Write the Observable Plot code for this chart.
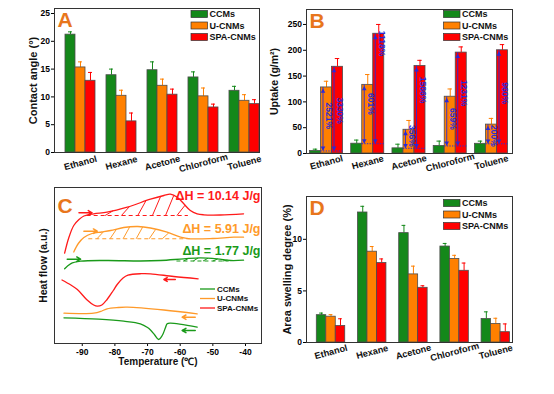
<!DOCTYPE html>
<html><head><meta charset="utf-8">
<script src="https://cdn.jsdelivr.net/npm/d3@7"></script>
<script src="https://cdn.jsdelivr.net/npm/@observablehq/plot@0.6"></script>
<style>
body{margin:0;background:#fff;}
#wrap{position:relative;width:554px;height:394px;overflow:hidden;background:#fff;}
#wrap svg{position:absolute;left:0;top:0;}
</style></head><body><div id="wrap"></div>
<script>
// ---------- shared categories ----------
const solvents = ["Ethanol", "Hexane", "Acetone", "Chloroform", "Toluene"];
const samples = ["CCMs", "U-CNMs", "SPA-CNMs"];
const sampleColors = ["#14881a", "#ff8000", "#ff0000"];

// ---------- Panel A: contact angle (°) ----------
const angleCCMs = [21.2, 13.9, 14.8, 13.5, 11.1];
const angleUCNMs = [15.3, 10.2, 12.0, 10.1, 9.3];
const angleSPA = [12.9, 5.6, 10.4, 8.1, 8.7];
const angleCCMsErr = [0.5, 1.1, 1.5, 1.0, 0.8];
const angleUCNMsErr = [1.0, 1.0, 1.2, 1.5, 1.1];
const angleSPAErr = [1.5, 1.5, 1.0, 0.6, 0.8];
const angleTicks = [0, 5, 10, 15, 20, 25];

// ---------- Panel B: uptake (g/m2) ----------
const uptakeCCMs = [4.9, 19, 10, 14.6, 18.8];
const uptakeUCNMs = [128, 133, 46, 110, 56];
const uptakeSPA = [168, 232, 169.5, 195.5, 200];
const uptakeCCMsErr = [3.5, 7, 8, 9.4, 5.2];
const uptakeUCNMsErr = [12, 20, 18, 15, 12];
const uptakeSPAErr = [16, 18, 11, 11, 11];
const uptakeTicks = [0, 50, 100, 150, 200, 250];
const pctU = ["2521%", "601%", "356%", "659%", "200%"];
const pctSPA = ["3330%", "1118%", "1586%", "1231%", "960%"];
const pctUy = [73, 96, 34, 67, 34];
const pctSPAy = [83, 213, 123, 117, 117];

// ---------- Panel D: area swelling degree (%) ----------
const swellCCMs = [2.65, 12.6, 10.6, 9.3, 2.27];
const swellUCNMs = [2.5, 8.8, 6.6, 8.1, 1.8];
const swellSPA = [1.6, 7.7, 5.3, 6.95, 1.0];
const swellCCMsErr = [0.2, 0.6, 0.75, 0.3, 0.7];
const swellUCNMsErr = [0.2, 0.5, 0.8, 0.35, 0.55];
const swellSPAErr = [0.7, 0.4, 0.2, 0.75, 0.8];
const swellTicks = [0, 5, 10];

// ---------- Panel C: DSC curves (temperature °C, heat flow a.u.) ----------
const redHeatT = [-95.4, -94.1, -92.6, -91, -89.5, -86.5, -82.4, -76.2, -69.1, -65, -63, -60.9, -58.9, -56.9, -54.8, -52.8, -47.7, -40.6];
const redHeatH = [90.3, 106, 118, 124, 127.5, 129.7, 131.3, 136.3, 144.3, 148, 149.3, 146.3, 139.7, 133, 129.7, 128.7, 128.5, 129.7];
const orangeHeatT = [-92.6, -91.2, -89.5, -87, -84, -81.3, -77.3, -73, -69.1, -64, -59.9, -56.9, -50, -43.6, -40.6];
const orangeHeatH = [91.5, 100, 106, 110, 111.5, 113, 116, 117, 115.5, 111.3, 106.3, 104.7, 105, 106.3, 106.3];
const greenHeatT = [-95.4, -93.6, -90.5, -82.4, -72.2, -66, -58.9, -53.8, -48.7, -44.6, -40.6];
const greenHeatH = [74.7, 79.7, 82.3, 83, 82.5, 83, 84.7, 85.7, 84.7, 83, 83.3];
const redCoolT = [-96.2, -93.5, -91.5, -88.5, -86.5, -85.4, -84, -82.4, -80.5, -79.3, -77.5, -76, -72, -69.1, -62, -54.5];
const redCoolH = [63.5, 58.5, 54, 43.5, 38.5, 37.3, 38.5, 44, 53, 59, 65.5, 68.3, 69.8, 69.7, 67, 64.7];
const orangeCoolT = [-95.6, -86.5, -84, -82.4, -79, -76.2, -65, -54.8];
const orangeCoolH = [30.3, 30.3, 32.5, 34.7, 36, 36.3, 33.5, 29.7];
const greenCoolT = [-95.6, -85, -77.3, -72.2, -70, -69.1, -67.8, -66.6, -65.5, -64.5, -64, -63, -54.8];
const greenCoolH = [25.7, 24.3, 22.3, 19.7, 16, 13.5, 8.5, 4, 8, 16, 19.7, 20.3, 16.3];
const tempTicks = [-90, -80, -70, -60, -50, -40];
const enthalpyLabels = ["\u0394H = 10.14 J/g", "\u0394H = 5.91 J/g", "\u0394H = 1.77 J/g"];
// integration baselines [from, to, level]
const redBase = [-88.5, -57.5, 128];
const orangeBase = [-88, -57, 104.7];
const greenBase = [-61, -45, 82.5];
const redHatchT = [-83, -78, -73, -68.5, -64.5, -61];
const orangeHatchT = [-85.5, -81.5, -77.5, -73.5, -69.5, -65.5];
const greenHatchT = [-59, -56, -53, -50, -47];
// direction arrows [x1, x2, level]
const redHeatArrow = [-91, -87, 130.7];
const orangeHeatArrow = [-89.5, -85.4, 112.3];
const greenHeatArrow = [-94.6, -90.5, 84.3];
const redCoolArrow = [-61.5, -65, 64];
const orangeCoolArrow = [-55.4, -59.4, 26.3];
const greenCoolArrow = [-55.4, -59.4, 13];

// ---------- helpers ----------
const wrap = document.getElementById("wrap");
const FONT = "'Liberation Sans', Arial, Helvetica, sans-serif";
const letterColor = "#e8761c";
const annBlue = "#2a2ad8";
const ink = "#111";
const curveColors = ["#1a9a1a", "#ff9a2a", "#ff1a1a"];
const STYLE = {background: "transparent", overflow: "visible", fontFamily: FONT, fontWeight: "bold"};

function frameMargins(l, t, r, b) {
  return {width: 554, height: 394, marginLeft: l, marginTop: t, marginRight: 554 - r, marginBottom: 394 - b};
}

function legendBoxes(x0, y0) {
  return () => {
    const g = d3.create("svg:g").attr("font-family", FONT).attr("font-size", 9).attr("font-weight", "bold").attr("text-anchor", "start");
    samples.forEach((s, i) => {
      const y = y0 + i * 11.5;
      g.append("rect").attr("x", x0).attr("y", y - 3.5).attr("width", 16.5).attr("height", 7)
        .attr("fill", sampleColors[i]).attr("stroke", "#333").attr("stroke-width", 0.7);
      g.append("text").attr("x", x0 + 18.5).attr("y", y).attr("dy", "0.35em").attr("fill", ink).text(s);
    });
    return g.node();
  };
}

function legendLines(x0, y0) {
  return () => {
    const g = d3.create("svg:g").attr("font-family", FONT).attr("font-size", 8).attr("font-weight", "bold").attr("text-anchor", "start");
    samples.forEach((s, i) => {
      const y = y0 + i * 9.5;
      g.append("line").attr("x1", x0).attr("x2", x0 + 15).attr("y1", y).attr("y2", y)
        .attr("stroke", curveColors[i]).attr("stroke-width", 1.3);
      g.append("text").attr("x", x0 + 17).attr("y", y).attr("dy", "0.35em").attr("fill", ink).text(s);
    });
    return g.node();
  };
}

function groupedRows(values, errors, bw) {
  const rows = [];
  values.forEach((arr, si) => arr.forEach((v, gi) => {
    const x1 = gi + (si - 1.5) * bw;
    rows.push({gi, si, v, e: errors[si][gi], x1, x2: x1 + bw, xc: x1 + bw / 2, color: sampleColors[si]});
  }));
  return rows;
}

function barPanel(cfg) {
  const rows = groupedRows(cfg.values, cfg.errors, cfg.bw);
  const cap = cfg.bw * 0.2;
  return Plot.plot({
    ...frameMargins(...cfg.frame),
    style: STYLE,
    x: {domain: cfg.xDomain, axis: null},
    y: {domain: cfg.yDomain, axis: null},
    color: {type: "identity"},
    marks: [
      Plot.ruleX(rows, {x: "xc", y1: "v", y2: d => d.v + d.e, stroke: "color", strokeWidth: 1}),
      Plot.ruleY(rows, {y: d => d.v + d.e, x1: d => d.xc - cap, x2: d => d.xc + cap, stroke: "color", strokeWidth: 1}),
      Plot.rectY(rows, {x1: "x1", x2: "x2", y1: 0, y2: "v", fill: "color", stroke: "#4d4d4d", strokeWidth: 0.8}),
      ...(cfg.extra || []),
      Plot.axisY({ticks: cfg.yTicks, tickSize: 3, tickPadding: 1.5, fontSize: 8.5, fontWeight: "bold", label: null, tickFormat: d => String(d)}),
      Plot.text(solvents, {x: (d, i) => i, y: cfg.yDomain[0], dy: cfg.catDy, rotate: -15, text: d => d, fontSize: 9.2, fill: ink}),
      Plot.frame({stroke: "#333", strokeWidth: 1}),
      Plot.text([cfg.letter], {frameAnchor: "top-left", dx: 3, dy: 4, lineAnchor: "top", textAnchor: "start", text: d => d, fontSize: 21, fill: letterColor}),
      Plot.text([cfg.ylabel], {frameAnchor: "left", dx: cfg.ylabelDx, rotate: -90, textAnchor: "middle", lineAnchor: "middle", text: d => d, fontSize: cfg.ylabelSize, fill: ink}),
      legendBoxes(cfg.legend[0], cfg.legend[1])
    ]
  });
}

// ---------- A ----------
wrap.appendChild(barPanel({
  frame: [54, 8, 259, 152],
  values: [angleCCMs, angleUCNMs, angleSPA],
  errors: [angleCCMsErr, angleUCNMsErr, angleSPAErr],
  bw: 0.244, xDomain: [-0.634, 4.366], yDomain: [0, 25.9], yTicks: angleTicks,
  catDy: 10.5, letter: "A", ylabel: "Contact angle (\u00b0)", ylabelDx: -21, ylabelSize: 11,
  legend: [191, 14]
}));

// ---------- B ----------
const bBw = 0.267;
const arrowsB = [];
solvents.forEach((s, gi) => {
  arrowsB.push({x: gi - 0.5 * bBw, base: uptakeCCMs[gi], top: uptakeUCNMs[gi], label: pctU[gi], ly: pctUy[gi], xc: gi});
  arrowsB.push({x: gi + 0.5 * bBw, base: uptakeCCMs[gi], top: uptakeSPA[gi], label: pctSPA[gi], ly: pctSPAy[gi], xc: gi + bBw});
});
const triUp = {draw(ctx, size) { const s = Math.sqrt(size / Math.PI); ctx.moveTo(0, -s); ctx.lineTo(s * 0.95, s * 0.8); ctx.lineTo(-s * 0.95, s * 0.8); ctx.closePath(); }};
const triDown = {draw(ctx, size) { const s = Math.sqrt(size / Math.PI); ctx.moveTo(0, s); ctx.lineTo(s * 0.95, -s * 0.8); ctx.lineTo(-s * 0.95, -s * 0.8); ctx.closePath(); }};
wrap.appendChild(barPanel({
  frame: [306, 9, 512, 153],
  values: [uptakeCCMs, uptakeUCNMs, uptakeSPA],
  errors: [uptakeCCMsErr, uptakeUCNMsErr, uptakeSPAErr],
  bw: bBw, xDomain: [-0.485, 4.51], yDomain: [0, 279], yTicks: uptakeTicks,
  catDy: 9, letter: "B", ylabel: "Uptake (g/m\u00b2)", ylabelDx: -32, ylabelSize: 10.5,
  legend: [443.5, 14],
  extra: [
    Plot.ruleY(solvents.map((s, gi) => ({gi, y: uptakeCCMs[gi]})), {y: "y", x1: d => d.gi - 0.5 * bBw, x2: d => d.gi + 1.5 * bBw, stroke: annBlue, strokeDasharray: "1.3,1.3", strokeWidth: 1}),
    Plot.ruleX(arrowsB, {x: "x", y1: "base", y2: "top", dx: 2, stroke: annBlue, strokeWidth: 0.9}),
    Plot.dot(arrowsB, {x: "x", y: "top", dx: 2, dy: 3.5, symbol: triUp, r: 2.4, fill: annBlue, stroke: "none"}),
    Plot.dot(arrowsB, {x: "x", y: "base", dx: 2, dy: -2.5, symbol: triDown, r: 2.4, fill: annBlue, stroke: "none"}),
    Plot.text(arrowsB, {x: "xc", y: "ly", dx: 2.5, rotate: 90, text: "label", fontSize: 8.5, fill: annBlue})
  ]
}));

// ---------- D ----------
wrap.appendChild(barPanel({
  frame: [306, 196, 512, 342],
  values: [swellCCMs, swellUCNMs, swellSPA],
  errors: [swellCCMsErr, swellUCNMsErr, swellSPAErr],
  bw: 0.23, xDomain: [-0.595, 4.405], yDomain: [0, 14.15], yTicks: swellTicks,
  catDy: 9.5, letter: "D", ylabel: "Area swelling degree (%)", ylabelDx: -19, ylabelSize: 11,
  legend: [443.5, 203]
}));

// ---------- C ----------
function toPts(T, H, id) { return T.map((t, i) => ({t, h: H[i], id, color: curveColors[id % 3]})); }
const curves = [
  ...toPts(greenHeatT, greenHeatH, 0), ...toPts(orangeHeatT, orangeHeatH, 1), ...toPts(redHeatT, redHeatH, 2),
  ...toPts(greenCoolT, greenCoolH, 3), ...toPts(orangeCoolT, orangeCoolH, 4), ...toPts(redCoolT, redCoolH, 5)
];
function interp(T, H, t) {
  for (let i = 1; i < T.length; i++) if (t <= T[i]) { const f = (t - T[i - 1]) / (T[i] - T[i - 1]); return H[i - 1] + f * (H[i] - H[i - 1]); }
  return H[H.length - 1];
}
const baselines = [
  {x1: greenBase[0], x2: greenBase[1], y: greenBase[2], color: curveColors[0]},
  {x1: orangeBase[0], x2: orangeBase[1], y: orangeBase[2], color: curveColors[1]},
  {x1: redBase[0], x2: redBase[1], y: redBase[2], color: curveColors[2]}
];
const hatches = [
  ...greenHatchT.map(t => ({x1: t, y1: greenBase[2], x2: t + 1.5, y2: interp(greenHeatT, greenHeatH, t + 1.5), color: curveColors[0]})),
  ...orangeHatchT.map(t => ({x1: t, y1: orangeBase[2], x2: t + 2, y2: interp(orangeHeatT, orangeHeatH, t + 2), color: curveColors[1]})),
  ...redHatchT.map(t => ({x1: t, y1: redBase[2], x2: t + 2.5, y2: interp(redHeatT, redHeatH, t + 2.5), color: curveColors[2]}))
];
const arrowsC = [
  [greenHeatArrow, 0], [orangeHeatArrow, 1], [redHeatArrow, 2],
  [greenCoolArrow, 0], [orangeCoolArrow, 1], [redCoolArrow, 2]
].map(([a, c]) => ({x1: a[0], x2: a[1], y: a[2], color: curveColors[c]}));

wrap.appendChild(Plot.plot({
  ...frameMargins(54, 187, 261, 343),
  style: STYLE,
  x: {domain: [-98.5, -35.1]},
  y: {domain: [0, 156], axis: null},
  color: {type: "identity"},
  marks: [
    Plot.line(curves, {x: "t", y: "h", z: "id", stroke: "color", curve: "catmull-rom", strokeWidth: 1.3}),
    Plot.ruleY(baselines, {y: "y", x1: "x1", x2: "x2", stroke: "color", strokeDasharray: "4,3", strokeWidth: 1.1}),
    Plot.link(hatches, {x1: "x1", y1: "y1", x2: "x2", y2: "y2", stroke: "color", strokeWidth: 1}),
    Plot.arrow(arrowsC, {x1: "x1", x2: "x2", y1: "y", y2: "y", stroke: "color", headLength: 5, strokeWidth: 1.5}),
    Plot.axisX({ticks: tempTicks, tickSize: 3, tickPadding: 2, fontSize: 8.5, fontWeight: "bold", label: null, tickFormat: d => String(d)}),
    Plot.text(["Temperature (\u2103)"], {frameAnchor: "bottom", dy: 18, lineAnchor: "middle", textAnchor: "middle", text: d => d, fontSize: 10, fill: ink}),
    Plot.text(["Heat flow (a.u.)"], {frameAnchor: "left", dx: -11, rotate: -90, textAnchor: "middle", lineAnchor: "middle", text: d => d, fontSize: 10.5, fill: ink}),
    Plot.frame({stroke: "#333", strokeWidth: 1}),
    Plot.text(["C"], {frameAnchor: "top-left", dx: 3, dy: 11, lineAnchor: "top", textAnchor: "start", text: d => d, fontSize: 21, fill: letterColor}),
    Plot.text([enthalpyLabels[0]], {frameAnchor: "top-right", dx: -1, dy: 8, textAnchor: "end", lineAnchor: "middle", text: d => d, fontSize: 12.5, fill: curveColors[2]}),
    Plot.text([enthalpyLabels[1]], {frameAnchor: "top-right", dx: -1, dy: 41, textAnchor: "end", lineAnchor: "middle", text: d => d, fontSize: 12.5, fill: curveColors[1]}),
    Plot.text([enthalpyLabels[2]], {frameAnchor: "top-right", dx: -1, dy: 63, textAnchor: "end", lineAnchor: "middle", text: d => d, fontSize: 12.5, fill: curveColors[0]}),
    legendLines(200, 289)
  ]
}));
</script>
</body></html>
